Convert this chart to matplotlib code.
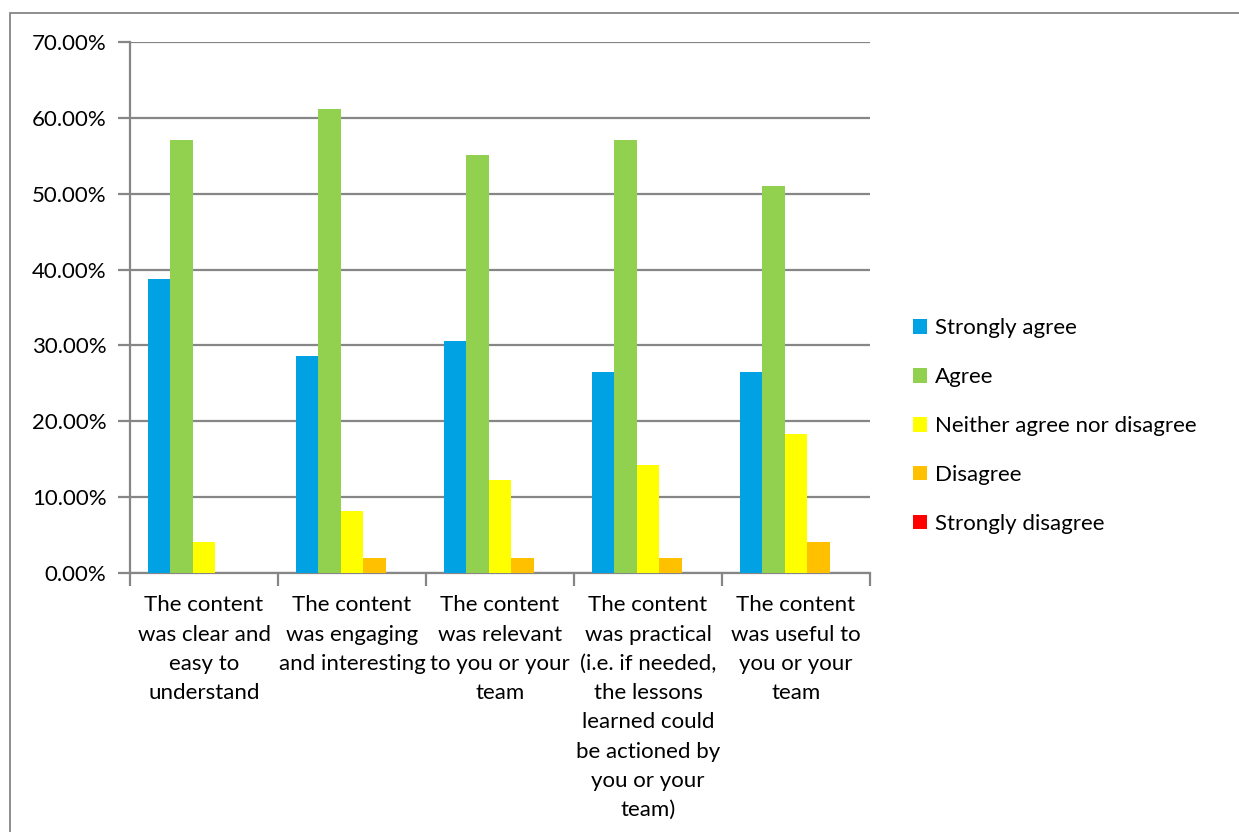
import matplotlib
matplotlib.use("Agg")
import matplotlib.pyplot as plt
import numpy as np
from matplotlib.patches import Patch, Rectangle

categories = [
    "The content\nwas clear and\neasy to\nunderstand",
    "The content\nwas engaging\nand interesting",
    "The content\nwas relevant\nto you or your\nteam",
    "The content\nwas practical\n(i.e. if needed,\nthe lessons\nlearned could\nbe actioned by\nyou or your\nteam)",
    "The content\nwas useful to\nyou or your\nteam",
]
series_names = ["Strongly agree", "Agree", "Neither agree nor disagree",
                "Disagree", "Strongly disagree"]
strongly_agree = [38.78, 28.57, 30.61, 26.53, 26.53]
agree = [57.14, 61.22, 55.10, 57.14, 51.02]
neither = [4.08, 8.16, 12.24, 14.29, 18.37]
disagree = [0.0, 2.04, 2.04, 2.04, 4.08]
strongly_disagree = [0.0, 0.0, 0.0, 0.0, 0.0]
colors = ["#00A2E3", "#92D050", "#FFFF00", "#FFC000", "#FF0000"]

plt.rcParams['font.family'] = ['Lato', 'DejaVu Sans']
FS = 16
fig = plt.figure(figsize=(12.39, 8.32), dpi=100)
ax = fig.add_axes([130/1239, 1-573/832, 740/1239, 531/832])

values = [strongly_agree, agree, neither, disagree, strongly_disagree]
x = np.arange(len(categories))
w = 22.5/148
for j, (vals, c, name) in enumerate(zip(values, colors, series_names)):
    ax.bar(x + (j-2)*w, vals, width=w, color=c, label=name, zorder=3)

ax.set_xlim(-0.5, len(categories)-0.5)
ax.set_ylim(0, 70)
ax.set_yticks(np.arange(0, 71, 10))
ax.set_yticklabels([f"{v:.2f}%" for v in np.arange(0, 71, 10)], fontsize=FS)
ax.yaxis.grid(True, color="#868686", linewidth=1.6, zorder=0)
for s in ["top", "right"]:
    ax.spines[s].set_visible(False)
for s in ["left", "bottom"]:
    ax.spines[s].set_color("#868686")
    ax.spines[s].set_linewidth(1.6)
ax.tick_params(axis='y', length=9, width=1.6, color="#868686", pad=8)
ax.set_xticks(np.arange(-0.5, len(categories)), minor=False)
ax.set_xticklabels([])
ax.tick_params(axis='x', which='major', length=9, width=1.6, color="#868686")
ax.set_xticks(x, minor=True)
ax.set_xticklabels(categories, minor=True, fontsize=FS, linespacing=1.58, va='top')
ax.tick_params(axis='x', which='minor', length=0, pad=16)

handles = [Patch(facecolor=c, label=n) for c, n in zip(colors, series_names)]
fig.legend(handles=handles, loc='center left', bbox_to_anchor=(904/1239, 1-426/832),
           frameon=False, fontsize=FS, handlelength=0.65, handleheight=0.65,
           handletextpad=0.35, labelspacing=1.3, borderaxespad=0)

fig.patches.append(Rectangle((10/1239, -0.1), 1.2, 1-13/832+0.1, transform=fig.transFigure,
                             fill=False, edgecolor="#868686", linewidth=1.3))

fig.savefig("out.png", dpi=100)
